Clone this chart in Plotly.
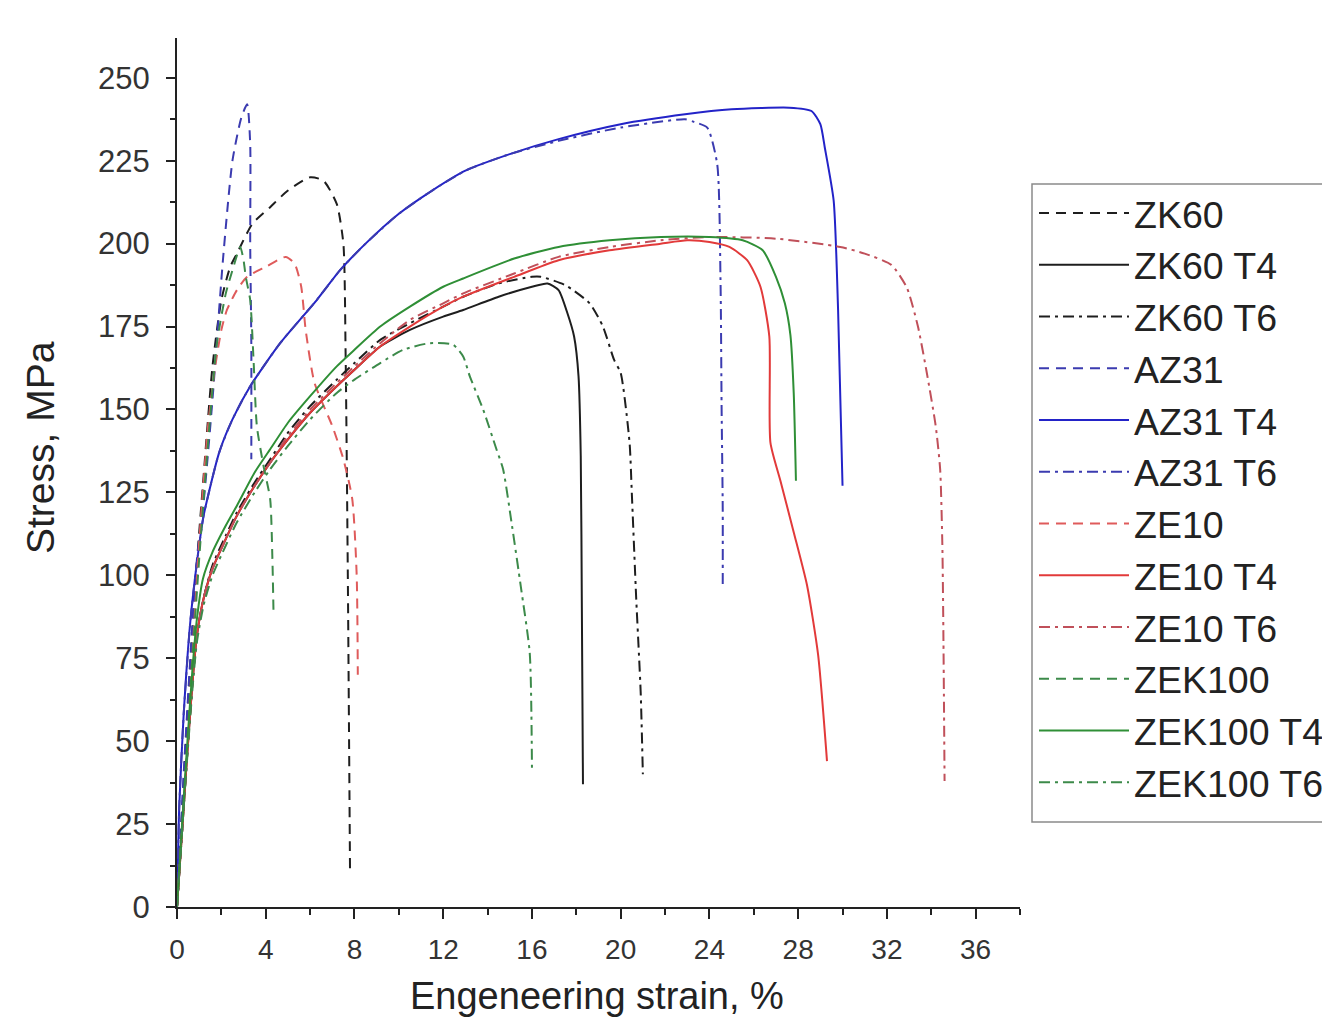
import plotly.graph_objects as go

# ---- data (strain %, stress MPa) ----
zk60_x = [0, 0.4, 0.8, 1.2, 1.6, 2.0, 2.4, 2.7, 3.4, 4.2, 5.0, 6.0, 6.6, 7.2, 7.5, 7.6, 7.7, 7.8]
zk60_y = [0, 50, 95, 130, 163, 183, 193, 197, 206, 211, 216, 220, 219, 212, 200, 167, 100, 10]

zk60t4_x = [0, 0.2, 0.45, 0.7, 0.9, 1.2, 1.6, 2.2, 2.7, 3.5, 4.2, 5.0, 6.0, 7.2, 8.0, 9.16, 10.5, 12.0, 12.9, 14.5, 16.0, 16.7, 17.2, 17.6, 17.9, 18.1, 18.2, 18.25, 18.3]
zk60t4_y = [0, 20, 45, 68, 82, 93, 102, 111, 118, 127, 134, 141, 149, 157, 162, 169, 174, 178, 180, 184, 187, 188, 186, 179, 172, 160, 136, 90, 37]

zk60t6_x = [0, 0.2, 0.45, 0.7, 0.9, 1.2, 1.6, 2.2, 2.7, 3.5, 4.2, 5.0, 6.0, 7.2, 8.0, 9.16, 10.5, 12.0, 12.9, 14.5, 16.0, 16.4, 17.5, 18.6, 19.2, 19.7, 20.0, 20.4, 20.5, 20.7, 20.9, 21.0]
zk60t6_y = [0, 20, 45, 68, 82, 93, 103, 112, 119, 128, 135, 143, 151, 159, 164, 171, 176, 181, 184, 188, 190, 190, 187.5, 182, 175, 165, 161, 140, 125, 93, 65, 40]

az31_x = [0, 0.3, 0.6, 0.9, 1.2, 1.6, 2.07, 2.5, 2.9, 3.16, 3.3, 3.3, 3.35, 3.35]
az31_y = [0, 40, 75, 105, 122, 153, 195, 225, 238, 242, 230, 200, 170, 135]

az31t4_x = [0, 0.1, 0.3, 0.6, 0.9, 1.2, 1.9, 2.5, 3.3, 4.65, 6.3, 7.35, 8.5, 10.0, 11.5, 13.0, 15.0, 17.2, 20.0, 22.9, 25.0, 27.6, 28.6, 29.0, 29.2, 29.6, 29.8, 30.0]
az31t4_y = [0, 30, 58, 86, 104, 118, 137, 147, 157, 170, 183, 192, 200, 209, 216, 222, 227, 231.5, 236, 239, 240.5, 241, 240, 236, 229, 213, 180, 127]

az31t6_x = [0, 0.1, 0.3, 0.6, 0.9, 1.2, 1.9, 2.5, 3.3, 4.65, 6.3, 7.35, 8.5, 10.0, 11.5, 13.0, 15.0, 17.2, 20.0, 22.9, 23.3, 23.9, 24.35, 24.5, 24.55, 24.6, 24.6]
az31t6_y = [0, 30, 58, 86, 104, 118, 137, 147, 157, 170, 183, 192, 200, 209, 216, 222, 227, 231, 235, 237.5, 236.7, 235, 224, 189, 150, 120, 97]

ze10_x = [0, 0.3, 0.6, 1.0, 1.4, 1.7, 2.0, 2.25, 2.7, 3.16, 4.0, 4.9, 5.3, 5.6, 5.8, 6.2, 7.0, 7.5, 7.9, 8.1, 8.15]
ze10_y = [0, 30, 65, 110, 145, 162, 174, 180, 186, 190, 193, 196, 194, 187, 174, 158, 145, 135, 123, 100, 70]

ze10t4_x = [0, 0.2, 0.45, 0.7, 0.9, 1.2, 1.6, 2.2, 2.7, 3.5, 4.2, 5.0, 6.0, 7.2, 8.0, 9.16, 10.5, 12.0, 12.9, 15.2, 17.2, 19.5, 21.8, 23.0, 24.0, 24.9, 25.7, 26.3, 26.7, 26.75, 27.2, 27.8, 28.4, 28.9, 29.3]
ze10t4_y = [0, 20, 45, 68, 82, 93, 102, 111, 118, 127, 134, 141, 149, 157, 162, 169, 175, 181, 184, 190, 195, 198, 200, 201, 200.5, 199, 195, 187, 172, 140, 128.5, 113, 97, 76, 44]

ze10t6_x = [0, 0.2, 0.45, 0.7, 0.9, 1.2, 1.6, 2.2, 2.7, 3.5, 4.2, 5.0, 6.0, 7.2, 8.0, 9.16, 10.5, 12.0, 12.9, 15.2, 17.2, 19.5, 21.8, 24.0, 27.0, 29.9, 31.0, 32.2, 32.9, 33.4, 33.8, 34.2, 34.4, 34.5, 34.55, 34.6]
ze10t6_y = [0, 20, 45, 68, 82, 93, 102, 111, 118, 127, 134, 142, 150, 158, 163, 170, 177, 182, 185, 191, 196, 199, 201, 202, 201.5, 199, 197, 193.6, 186.7, 175, 161, 145, 132, 109, 80, 38]

zek100_x = [0, 0.3, 0.6, 1.0, 1.4, 1.8, 2.2, 2.5, 2.85, 3.0, 3.1, 3.3, 3.45, 3.6, 3.9, 4.2, 4.3, 4.35]
zek100_y = [0, 30, 65, 105, 140, 170, 185, 192, 199, 195, 190, 183, 165, 145, 133, 123, 105, 89]

zek100t4_x = [0, 0.2, 0.45, 0.7, 0.9, 1.17, 1.6, 2.2, 2.7, 3.5, 4.2, 5.0, 6.0, 7.2, 8.0, 9.16, 10.5, 12.0, 12.9, 15.2, 17.2, 19.5, 21.8, 24.0, 25.5, 26.4, 27.0, 27.4, 27.65, 27.8, 27.9]
zek100t4_y = [0, 22, 48, 72, 87, 99, 107, 115, 121, 131, 138, 146, 154, 163, 168, 175, 181, 187, 189.5, 195.5, 199, 201, 202, 202, 201, 198, 190, 182, 172.5, 155, 128.5]

zek100t6_x = [0, 0.2, 0.45, 0.7, 0.9, 1.2, 1.6, 2.2, 2.7, 3.5, 4.2, 5.0, 6.0, 7.2, 8.0, 9.16, 10.2, 11.4, 12.45, 12.9, 13.2, 13.8, 14.4, 14.7, 15.1, 15.5, 15.9, 16.0]
zek100t6_y = [0, 20, 44, 66, 80, 91, 100, 109, 116, 125, 132, 139, 147, 155, 159, 164, 168, 170, 169.5, 166, 160, 150, 138, 132, 115, 96.5, 76.6, 42]

x_ticks = [0, 4, 8, 12, 16, 20, 24, 28, 32, 36]
y_ticks = [0, 25, 50, 75, 100, 125, 150, 175, 200, 225, 250]

BLACK = "#1e1e1e"
BLUE = "#2323c8"
BLUE_D = "#3b3bb0"
RED = "#e23a3a"
RED_D = "#df5b5b"
RED_DD = "#c0505a"
GREEN = "#2f8f36"
GREEN_D = "#3c8a4a"

DASH = "10px,7px"
DASHDOT = "11px,5px,3px,5px"

series = [
    ("ZK60", zk60_x, zk60_y, BLACK, DASH),
    ("ZK60 T4", zk60t4_x, zk60t4_y, BLACK, "solid"),
    ("ZK60 T6", zk60t6_x, zk60t6_y, BLACK, DASHDOT),
    ("AZ31", az31_x, az31_y, BLUE_D, DASH),
    ("AZ31 T4", az31t4_x, az31t4_y, BLUE, "solid"),
    ("AZ31 T6", az31t6_x, az31t6_y, BLUE_D, DASHDOT),
    ("ZE10", ze10_x, ze10_y, RED_D, DASH),
    ("ZE10 T4", ze10t4_x, ze10t4_y, RED, "solid"),
    ("ZE10 T6", ze10t6_x, ze10t6_y, RED_DD, DASHDOT),
    ("ZEK100", zek100_x, zek100_y, GREEN_D, DASH),
    ("ZEK100 T4", zek100t4_x, zek100t4_y, GREEN, "solid"),
    ("ZEK100 T6", zek100t6_x, zek100t6_y, GREEN_D, DASHDOT),
]

fig = go.Figure()
for name, xs, ys, col, dash in series:
    fig.add_trace(go.Scatter(
        x=xs, y=ys, mode="lines", name=name, legendgroup=name,
        line=dict(color=col, width=2, dash=dash, shape="spline", smoothing=0.6),
    ))

FONT = "Liberation Sans, Arial, sans-serif"
# page has an 8px body margin; plot area in reference coords: x 177..1020, y 38..907
OFF = 8
RL, RT, RR, RB = 177, 38, 1020, 907
W, H = 1322, 1015
L, T = RL - OFF, RT - OFF
pw, ph = RR - RL, RB - RT
R = W - L - pw
B = H - T - ph

def px_x(p):
    return (p - RL) / pw

def px_y(p):
    return (RB - p) / ph

fig.update_layout(
    width=W, height=H,
    margin=dict(l=L, r=R, t=T, b=B, autoexpand=False),
    plot_bgcolor="white", paper_bgcolor="white",
    font=dict(family=FONT, color="#333333"),
    showlegend=True,
    legend=dict(
        x=px_x(1034), y=px_y(182), xanchor="left", yanchor="top",
        font=dict(family=FONT, size=37.5, color="#222222"),
        itemwidth=90, tracegroupgap=0,
        bgcolor="rgba(0,0,0,0)", borderwidth=0,
    ),
    xaxis=dict(
        range=[0, 38], tickvals=x_ticks, ticktext=[str(v) for v in x_ticks],
        ticks="outside", ticklen=10, tickwidth=2, tickcolor="#222",
        showline=True, linecolor="#222", linewidth=2, showgrid=False, zeroline=False,
        tickfont=dict(family=FONT, size=28, color="#333"),
        ticklabelstandoff=6,
        minor=dict(tickvals=[2, 6, 10, 14, 18, 22, 26, 30, 34, 38], ticks="outside", ticklen=6, tickwidth=2, tickcolor="#222"),
    ),
    yaxis=dict(
        range=[0, 262], tickvals=y_ticks, ticktext=[str(v) for v in y_ticks],
        ticks="outside", ticklen=9, tickwidth=2, tickcolor="#222",
        showline=True, linecolor="#222", linewidth=2, showgrid=False, zeroline=False,
        tickfont=dict(family=FONT, size=31, color="#333"),
        ticklabelstandoff=10,
        minor=dict(tickvals=[12.5 + 25 * i for i in range(10)], ticks="outside", ticklen=5, tickwidth=2, tickcolor="#222"),
    ),
    shapes=[dict(type="rect", xref="paper", yref="paper",
                 x0=px_x(1032), x1=px_x(1345), y0=px_y(822), y1=px_y(184),
                 line=dict(color="#8a8a8a", width=1.5), fillcolor="rgba(0,0,0,0)")],
    annotations=[
        dict(text="Stress, MPa", xref="paper", yref="paper",
             x=px_x(40), y=px_y(448), xanchor="center", yanchor="middle",
             textangle=-90, showarrow=False,
             font=dict(family=FONT, size=39, color="#222")),
        dict(text="Engeneering strain, %", xref="paper", yref="paper",
             x=px_x(597), y=px_y(996), xanchor="center", yanchor="middle",
             showarrow=False,
             font=dict(family=FONT, size=38, color="#222")),
    ],
)

fig.write_html("out.html")
